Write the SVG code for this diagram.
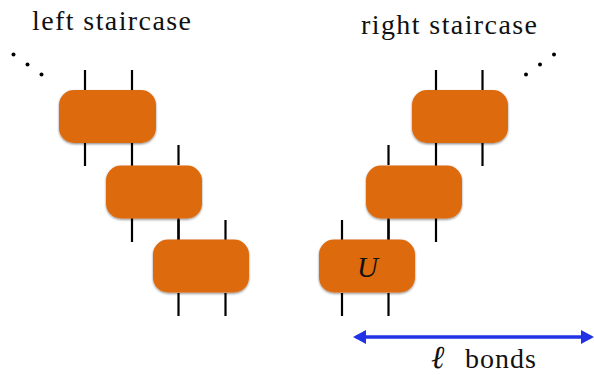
<svg xmlns="http://www.w3.org/2000/svg" width="594" height="375" viewBox="0 0 594 375">
  <style>
    text { font-family: "Liberation Serif", "Times New Roman", serif; fill: #111; }
    .label { font-size: 28px; }
    .box { fill: #dd6b10; filter: url(#shadow); }
    .leg { stroke: #000; stroke-width: 2.2; fill: none; }
    .dot { fill: #000; }
    .arrow { stroke: #2233e6; stroke-width: 3.4; fill: none; marker-start: url(#head); marker-end: url(#head); }
  </style>
  <defs>
    <filter id="shadow" x="-10%" y="-15%" width="120%" height="135%">
      <feDropShadow dx="0" dy="1.2" stdDeviation="1.2" flood-color="#000" flood-opacity="0.45"/>
    </filter>
    <marker id="head" viewBox="0 0 13 14" refX="10" refY="7" markerWidth="13" markerHeight="14" markerUnits="userSpaceOnUse" orient="auto-start-reverse">
      <path d="M0 0L13 7L0 14Z" fill="#2233e6"/>
    </marker>
  </defs>
  <rect width="594" height="375" fill="#fff"/>
  <g id="connectors">
    <path class="leg" d="M85 70V90M132 70V90M85 143V166M132 143V166"/>
    <path class="leg" d="M132 166V242M178.500 145V165M178.500 218V241"/>
    <path class="leg" d="M178.500 220V240M225.500 220V240M178.500 293V316M225.500 293V316"/>
    <path class="leg" d="M436 70V90M482.500 70V90M436 143V166M482.500 143V166"/>
    <path class="leg" d="M388.500 145V165M436 166V242M388.500 218V241"/>
    <path class="leg" d="M342 220V240M388.500 220V240M342 293V316M388.500 293V316"/>
    <path class="arrow" d="M356 337H591"/>
  </g>
  <g id="dots-left">
    <circle class="dot" cx="13.500" cy="54.500" r="2"/>
    <circle class="dot" cx="27.500" cy="64.500" r="2"/>
    <circle class="dot" cx="41.500" cy="74.500" r="2"/>
  </g>
  <g id="dots-right">
    <circle class="dot" cx="526" cy="74.500" r="2"/>
    <circle class="dot" cx="540" cy="64.500" r="2"/>
    <circle class="dot" cx="554" cy="54.500" r="2"/>
  </g>
  <g id="left-1"><rect class="box" x="59" y="90" width="97" height="53" rx="15"/></g>
  <g id="left-2"><rect class="box" x="106" y="165.500" width="96" height="53" rx="15"/></g>
  <g id="left-3"><rect class="box" x="153" y="239.500" width="96" height="53" rx="15"/></g>
  <g id="right-1"><rect class="box" x="412" y="90" width="96" height="53" rx="15"/></g>
  <g id="right-2"><rect class="box" x="366" y="165.500" width="96" height="53" rx="15"/></g>
  <g id="right-3">
    <rect class="box" x="319" y="239.500" width="96" height="53" rx="15"/>
    <text x="367.500" y="277" text-anchor="middle" font-size="29" font-style="italic">U</text>
  </g>
  <text class="label" x="32" y="30" textLength="159">left staircase</text>
  <text class="label" x="361" y="34" textLength="176">right staircase</text>
  <text x="431" y="368" font-size="32" font-style="italic">ℓ</text>
  <text class="label" x="465" y="368" textLength="71">bonds</text>
</svg>
